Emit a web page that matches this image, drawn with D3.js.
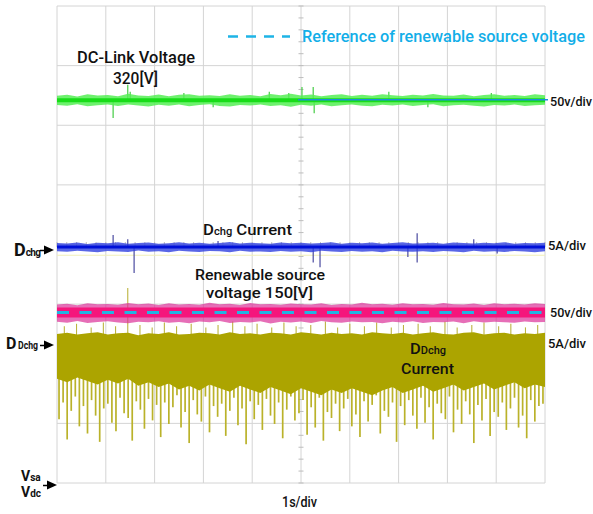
<!DOCTYPE html>
<html><head><meta charset="utf-8">
<script src="https://cdn.jsdelivr.net/npm/d3@7"></script>
<style>body{margin:0;background:#fff}svg{display:block}</style>
</head><body>
<svg id="c" width="593" height="514"></svg>
<script>
// ---------------- DATA ----------------
// time base: 10 divisions at 1 s/div
const timeDivs = 10, voltDivs = 8;

// DC-link voltage (V), 50 V/div
const greenCore = 321;
const greenMax = [324.8,325.6,324.2,326.1,324.9,325.3,324.4,326.4,325.0,324.6,325.8,324.3,325.5,326.0,324.7,325.2,324.5,325.9,324.8,325.4,324.3,326.2,325.1,326.5,324.9,325.7,324.4,325.3,326.0,324.6,325.5,324.8,326.1,325.2,324.5,325.6,324.9,326.3,325.0,324.7,325.8,324.4,325.4,326.0,324.8,325.3,324.6,325.9,325.1];
const greenMin = [317.0,316.3,317.6,315.9,316.8,317.3,316.1,317.5,316.6,315.8,317.1,316.4,317.4,316.0,316.9,317.6,316.2,315.7,317.0,316.5,317.3,316.1,316.8,315.6,317.2,316.4,317.5,316.0,316.7,317.4,316.3,315.9,317.1,316.6,317.3,316.2,316.9,317.6,316.0,316.8,317.2,316.4,315.8,317.0,316.5,317.3,316.1,316.7,317.2];
const greenSpikes = [[1.15,306],[1.45,334],[1.5,328],[2.6,327],[3.2,315],[4.35,328],[4.75,327],[5.02,332],[5.25,332],[5.27,310],[6.8,328],[7.6,315],[8.9,327]];

// Dchg current (A), 5 A/div
const blueCore = 0.1;
const blueMax = [0.42,0.38,0.47,0.35,0.44,0.40,0.49,0.37,0.43,0.46,0.36,0.41,0.48,0.39,0.45,0.37,0.43,0.50,0.38,0.44,0.41,0.36,0.47,0.40,0.45,0.38,0.42,0.49,0.37,0.44,0.40,0.46,0.36,0.43,0.48,0.39,0.41,0.45,0.37,0.47,0.42,0.38,0.44,0.40,0.49,0.36,0.43,0.41,0.45];
const blueMin = [-0.26,-0.31,-0.22,-0.29,-0.35,-0.24,-0.28,-0.33,-0.21,-0.30,-0.26,-0.34,-0.23,-0.29,-0.32,-0.25,-0.27,-0.36,-0.22,-0.30,-0.28,-0.33,-0.24,-0.31,-0.26,-0.35,-0.23,-0.29,-0.32,-0.25,-0.30,-0.27,-0.34,-0.22,-0.28,-0.31,-0.26,-0.33,-0.24,-0.29,-0.35,-0.23,-0.30,-0.27,-0.32,-0.25,-0.28,-0.34,-0.26];
const blueSpikes = [[1.15,1.1],[1.45,0.75],[1.58,-2.1],[3.3,0.6],[5.25,-1.2],[5.39,-1.6],[7.19,-0.75],[7.38,-1.2],[7.38,1.25],[8.54,0.75],[9.02,-0.45]];

// Renewable source voltage (V), 50 V/div
const pinkCore = 143;
const pinkMax = [149.6,150.3,149.1,150.8,149.8,150.1,149.4,151.0,149.9,150.5,149.2,150.7,149.7,150.2,149.5,151.2,149.9,150.4,149.3,150.9,149.8,150.2,149.4,150.6,150.0,149.6,150.8,149.3,150.1,149.7,151.1,149.9,150.4,149.5,150.7,149.8,150.2,149.4,150.9,150.0,149.6,150.5,149.2,150.8,149.9,150.3,149.6,150.7,150.1];
const pinkMin = [135.2,134.4,135.8,134.1,135.0,135.6,134.6,133.9,135.3,134.8,135.7,134.3,135.1,134.0,135.5,134.7,135.9,134.2,135.0,134.5,135.6,133.8,135.2,134.6,135.4,134.1,135.8,134.9,134.3,135.5,134.7,135.0,133.9,135.3,134.6,135.7,134.2,135.1,134.8,135.4,134.0,135.6,134.5,135.2,134.9,134.3,135.5,134.7,135.1];
const pinkReference = 143;

// DDchg current (A), 5 A/div
const oliveTop = [0.95,1.05,0.9,1.0,1.1,0.9,1.0,1.05,0.85,1.0,0.95,1.1,0.9,0.95,1.05,1.0,0.9,1.1,0.95,1.0,0.9,1.05,1.0,0.9,1.1,1.0,0.9,1.05,0.95,1.0,0.9,1.1,1.0,0.95,1.05,0.9,1.0,1.1,0.95,0.9,1.05,1.1,0.9,1.0,1.05,0.9,1.0,0.95,1.05];
const oliveBottom = [-2.8,-3.1,-2.7,-3.0,-3.3,-2.9,-3.2,-2.8,-3.4,-3.1,-3.5,-3.2,-3.7,-3.4,-3.8,-3.3,-3.6,-3.9,-3.4,-3.7,-4.0,-3.5,-3.8,-4.1,-3.6,-3.9,-4.2,-3.7,-4.0,-3.6,-3.9,-4.2,-3.8,-3.5,-4.0,-3.7,-3.4,-3.9,-3.6,-3.3,-3.8,-3.5,-3.2,-3.7,-3.4,-3.1,-3.6,-3.3,-3.5];
const oliveSpikes = [
-6.2,-4.8,-7.9,-5.5,-4.3,-6.8,-5.1,-7.4,-4.6,-5.9,
-8.1,-5.3,-4.9,-6.5,-7.2,-4.4,-5.7,-6.1,-8.0,-4.7,
-5.4,-7.0,-4.5,-6.3,-5.0,-7.7,-4.8,-6.6,-5.2,-4.2,
-6.9,-5.6,-8.2,-4.6,-5.8,-6.4,-4.3,-7.3,-5.1,-6.0,
-4.9,-7.6,-5.5,-4.4,-6.7,-5.3,-8.3,-4.7,-6.2,-5.0,
-7.1,-4.5,-5.9,-6.6,-4.8,-7.8,-5.4,-4.3,-6.3,-5.7,
-4.6,-7.5,-5.2,-6.9,-4.4,-8.0,-5.6,-6.1,-4.9,-7.2,
-5.3,-4.5,-6.8,-5.8,-7.7,-4.7,-6.4,-5.0,-4.2,-7.4,
-5.5,-6.0,-4.8,-8.1,-5.1,-6.7,-4.6,-5.9,-7.0,-4.4,
-6.5,-5.2,-7.9,-4.9,-5.7,-6.2,-4.3,-7.3,-5.4,-6.6,
-4.7,-5.8,-8.2,-5.0,-6.3,-4.5,-7.6,-5.6,-6.0,-4.8,
-7.1,-5.3,-4.4,-6.9,-5.9,-7.8,-4.6,-6.4,-5.1,-4.9];
const oliveUpSpikes = [[0.15,1.6],[0.4,1.8],[0.7,1.5],[0.95,1.9],[1.2,1.6],[1.45,4.8],[1.7,1.7],[1.95,1.5],[2.2,1.9],[2.45,1.6],[2.75,1.8],[3.05,1.5],[3.3,1.7],[3.6,2.0],[3.85,1.6],[4.1,1.8],[4.4,1.5],[4.65,1.9],[4.9,1.6],[5.2,1.7],[5.5,2.0],[5.75,1.5],[6.0,1.8],[6.3,1.6],[6.55,1.9],[6.85,1.5],[7.1,1.7],[7.4,1.8],[7.65,1.6],[7.95,2.0],[8.2,1.5],[8.5,1.7],[8.75,1.9],[9.05,1.6],[9.3,1.8],[9.6,1.5],[9.85,1.7]];

// text labels
const legendLabel = "Reference of renewable source voltage";
const scaleLabels = ["50v/div","5A/div","50v/div","5A/div"];
const timeLabel = "1s/div";

// ---------------- DRAW ----------------
const svg = d3.select("#c");
svg.append("rect").attr("width",593).attr("height",514).attr("fill","#fff");

const x = d3.scaleLinear().domain([0,timeDivs]).range([57,545]);
const yDiv = d3.scaleLinear().domain([-voltDivs/2,voltDivs/2]).range([483,6]);
const vY = v => yDiv(-4 + v/50);          // voltage channels, ground at bottom
const bY = a => yDiv(-0.06 + a/5);         // Dchg current
const oY = a => yDiv(-1.69 + a/5);         // DDchg current

const tEnv = d3.range(greenMax.length).map(i => i*timeDivs/(greenMax.length-1));

// grid
const g = svg.append("g");
g.selectAll(".vx").data(d3.range(0,timeDivs+1)).join("line")
 .attr("x1",d=>x(d)).attr("x2",d=>x(d)).attr("y1",yDiv(4)).attr("y2",yDiv(-4))
 .attr("stroke","#d4d4d4").attr("stroke-width",1);
g.selectAll(".hy").data(d3.range(-4,5)).join("line")
 .attr("y1",d=>yDiv(d)).attr("y2",d=>yDiv(d)).attr("x1",x(0)).attr("x2",x(timeDivs))
 .attr("stroke","#d4d4d4").attr("stroke-width",1);
g.selectAll(".mt").data(d3.range(-20,21).map(d=>d/5)).join("line")
 .attr("x1",x(5)-2.5).attr("x2",x(5)+2.5).attr("y1",d=>yDiv(d)).attr("y2",d=>yDiv(d))
 .attr("stroke","#bdbdbd");
g.selectAll(".mt2").data(d3.range(0,51).map(d=>d/5)).join("line")
 .attr("y1",yDiv(0)-2.5).attr("y2",yDiv(0)+2.5).attr("x1",d=>x(d)).attr("x2",d=>x(d))
 .attr("stroke","#bdbdbd");

function band(maxArr,minArr,fy,fill,op){
  svg.append("path")
   .attr("d", d3.area().x((d,i)=>x(tEnv[i])).y0((d,i)=>fy(minArr[i])).y1(d=>fy(d))(maxArr))
   .attr("fill",fill).attr("opacity",op);
}
function spikes(arr,base,fy,color,w){
  svg.append("g").selectAll("line").data(arr).join("line")
   .attr("x1",d=>x(d[0])).attr("x2",d=>x(d[0]))
   .attr("y1",fy(base)).attr("y2",d=>fy(d[1]))
   .attr("stroke",color).attr("stroke-width",w);
}

// ---- olive DDchg current ----
const tSp = oliveSpikes.map((d,i)=>(i+0.5)*timeDivs/oliveSpikes.length);
svg.append("g").selectAll("line").data(oliveSpikes).join("line")
 .attr("x1",(d,i)=>x(tSp[i])).attr("x2",(d,i)=>x(tSp[i]))
 .attr("y1",oY(-2)).attr("y2",d=>oY(d))
 .attr("stroke","#bab22a").attr("stroke-width",1.7);
spikes(oliveUpSpikes,0,oY,"#bcb440",1.1);
band(oliveTop,oliveBottom,oY,"#aca400",1);

// faint pale line below Dchg trace
svg.append("line").attr("x1",x(0)).attr("x2",x(10)).attr("y1",bY(-0.6)).attr("y2",bY(-0.6))
 .attr("stroke","#f1efb8").attr("stroke-width",1.2);

// ---- pink renewable source voltage ----
band(pinkMax,pinkMin,vY,"#dc3098",0.7);
svg.append("line").attr("x1",x(0)).attr("x2",x(10)).attr("y1",vY(pinkCore)).attr("y2",vY(pinkCore))
 .attr("stroke","#f5167c").attr("stroke-width",10);
svg.append("line").attr("x1",x(0)).attr("x2",x(10)).attr("y1",vY(pinkReference)).attr("y2",vY(pinkReference))
 .attr("stroke","#22b4e2").attr("stroke-width",3).attr("stroke-dasharray","12,10.5");

// ---- blue Dchg current ----
spikes(blueSpikes,blueCore,bY,"#4a4aa0",1.2);
band(blueMax,blueMin,bY,"#3040e0",0.8);
svg.append("line").attr("x1",x(0)).attr("x2",x(10)).attr("y1",bY(blueCore)).attr("y2",bY(blueCore))
 .attr("stroke","#0010d8").attr("stroke-width",3);

// ---- green DC-link voltage ----
spikes(greenSpikes,greenCore,vY,"#44cc44",1.2);
band(greenMax,greenMin,vY,"#55ee55",0.85);
svg.append("line").attr("x1",x(0)).attr("x2",x(10)).attr("y1",vY(greenCore)).attr("y2",vY(greenCore))
 .attr("stroke","#18dd18").attr("stroke-width",4);
svg.append("line").attr("x1",x(5)-3).attr("x2",x(10)+3).attr("y1",vY(greenCore)-0.5).attr("y2",vY(greenCore)-0.5)
 .attr("stroke","#1a8fd8").attr("stroke-width",1.6);

// ---------------- TEXT ----------------
const F = "Roboto,'Liberation Sans',Arial,sans-serif";
function txt(s,px,py,size,opts={}){
  const t = svg.append("text").attr("x",px).attr("y",py).attr("font-family",F)
   .attr("font-size",size).attr("fill",opts.fill||"#111").attr("font-weight",opts.w||500)
   .attr("text-anchor",opts.a||"start").text(s);
  if(opts.len) t.attr("textLength",opts.len).attr("lengthAdjust","spacingAndGlyphs");
  return t;
}
txt("DC-Link Voltage",77,63,16,{len:118});
txt("320[V]",113,84,16,{len:45});

// legend
svg.append("line").attr("x1",228).attr("x2",290).attr("y1",36.5).attr("y2",36.5)
 .attr("stroke","#1eb4e6").attr("stroke-width",2.5).attr("stroke-dasharray","10,8");
txt(legendLabel,302,42,16,{fill:"#12aee8",len:283});

txt(scaleLabels[0],550,106,13,{len:42});
txt(scaleLabels[1],548,250,13,{len:38});
txt(scaleLabels[2],550,317,13,{len:42});
txt(scaleLabels[3],548,348,13,{len:38});

let t1 = txt("",203,235,15,{len:89});
t1.append("tspan").text("D");
t1.append("tspan").attr("font-size",10).text("chg");
t1.append("tspan").text(" Current");

txt("Renewable source",195,280,15,{len:130});
txt("voltage 150[V]",206,298,15,{len:107});

let t2 = txt("",410,354,15,{len:36});
t2.append("tspan").text("D");
t2.append("tspan").attr("font-size",10).text("Dchg");
txt("Current",401,374,15,{len:53});

txt(timeLabel,282,507,14,{len:35});

// left markers
function arrow(ax,ay){
  svg.append("path").attr("d",`M${ax-10},${ay-4.5}L${ax},${ay}L${ax-10},${ay+4.5}Z`).attr("fill","#000");
  svg.append("line").attr("x1",ax-14).attr("x2",ax-8).attr("y1",ay+0.5).attr("y2",ay+0.5).attr("stroke","#000").attr("stroke-width",1.5);
}
let l1 = txt("",14,256,18,{w:700});
l1.append("tspan").text("D");
l1.append("tspan").attr("font-size",10).attr("letter-spacing",-0.6).text("chg");
arrow(54,250);

txt("D",6,349,16,{w:700});
txt("Dchg",18,349,10.5,{w:700,len:20});
arrow(54,345);

let l3 = txt("",21,481,14,{w:700});
l3.append("tspan").text("V");
l3.append("tspan").attr("font-size",10).text("sa");
let l4 = txt("",21,497,14,{w:700});
l4.append("tspan").text("V");
l4.append("tspan").attr("font-size",10).text("dc");
arrow(57,485);
</script>
</body></html>
